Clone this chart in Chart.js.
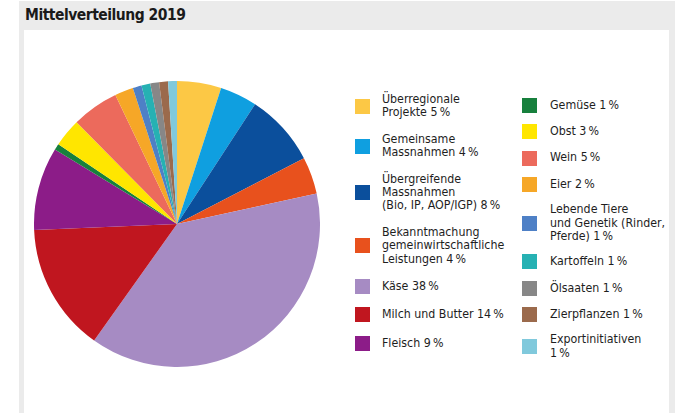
<!DOCTYPE html>
<html>
<head>
<meta charset="utf-8">
<script src="https://cdn.jsdelivr.net/npm/chart.js@4"></script>
<style>
  html, body { margin:0; padding:0; background:#fff; }
  body { width:678px; height:413px; position:relative; overflow:hidden;
         font-family:"DejaVu Sans Condensed","DejaVu Sans",sans-serif; color:#222; }
  #frame { position:absolute; left:19px; top:1px; width:656px; height:420px; background:#ebebeb; }
  #title { position:absolute; left:25px; top:6px; font-size:15.5px; font-weight:bold; color:#1a1a1a; letter-spacing:-0.5px; }
  #panel { position:absolute; left:24px; top:30px; width:645px; height:390px; background:#fff; }
  #chartbox { position:absolute; left:34px; top:81px; width:286px; height:286px; }
  .col { position:absolute; display:flex; flex-direction:column; }
  #col1 { left:355px; top:93px; gap:13.3px; }
  #col2 { left:522px; top:98px; height:262px; justify-content:space-between; }
  .item { display:flex; align-items:center; }
  .box { width:15px; height:15px; flex:none; }
  .txt { font-size:12.3px; line-height:13.3px; color:#1e1e1e; white-space:pre; }
  #col1 .txt { margin-left:12px; }
  #col2 .txt { margin-left:13px; }
</style>
</head>
<body>
<div id="frame"></div>
<div id="title">Mittelverteilung 2019</div>
<div id="panel"></div>
<div id="chartbox"><canvas id="c"></canvas></div>
<div id="col1" class="col"></div>
<div id="col2" class="col"></div>
<script>
const categories = [
  "Überregionale\nProjekte 5\u2009%",
  "Gemeinsame\nMassnahmen 4\u2009%",
  "Übergreifende\nMassnahmen\n(Bio, IP, AOP/IGP) 8\u2009%",
  "Bekanntmachung\ngemeinwirtschaftliche\nLeistungen 4\u2009%",
  "Käse 38\u2009%",
  "Milch und Butter 14\u2009%",
  "Fleisch 9\u2009%",
  "Gemüse 1\u2009%",
  "Obst 3\u2009%",
  "Wein 5\u2009%",
  "Eier 2\u2009%",
  "Lebende Tiere\nund Genetik (Rinder,\nPferde) 1\u2009%",
  "Kartoffeln 1\u2009%",
  "Ölsaaten 1\u2009%",
  "Zierpflanzen 1\u2009%",
  "Exportinitiativen\n1\u2009%"
];
const shares = [5, 4.2, 8.2, 4.2, 38.3, 14.5, 9.4, 0.7, 3.2, 5.3, 2.1, 1, 1, 1, 1, 1];
const colors = ["#fcc845","#0f9fe0","#0b4f9c","#e8511d","#a68bc3","#c0161f","#8c1c88",
                "#17803d","#ffe600","#ec6a5c","#f6a727","#4e80c6","#26b1b3","#878787","#9b6a4c","#80c9dc"];

const col1 = document.getElementById('col1');
const col2 = document.getElementById('col2');
categories.forEach((label, i) => {
  const item = document.createElement('div');
  item.className = 'item';
  const b = document.createElement('div');
  b.className = 'box';
  b.style.background = colors[i];
  const t = document.createElement('div');
  t.className = 'txt';
  t.textContent = label;
  item.appendChild(b); item.appendChild(t);
  (i < 7 ? col1 : col2).appendChild(item);
});

new Chart(document.getElementById('c'), {
  type: 'pie',
  data: {
    labels: categories.map(s => s.replace(/\n/g, ' ')),
    datasets: [{ data: shares, backgroundColor: colors, borderWidth: 0 }]
  },
  options: {
    responsive: true,
    maintainAspectRatio: false,
    animation: false,
    layout: { padding: 0 },
    plugins: { legend: { display: false }, tooltip: { enabled: false } }
  }
});
</script>
</body>
</html>
